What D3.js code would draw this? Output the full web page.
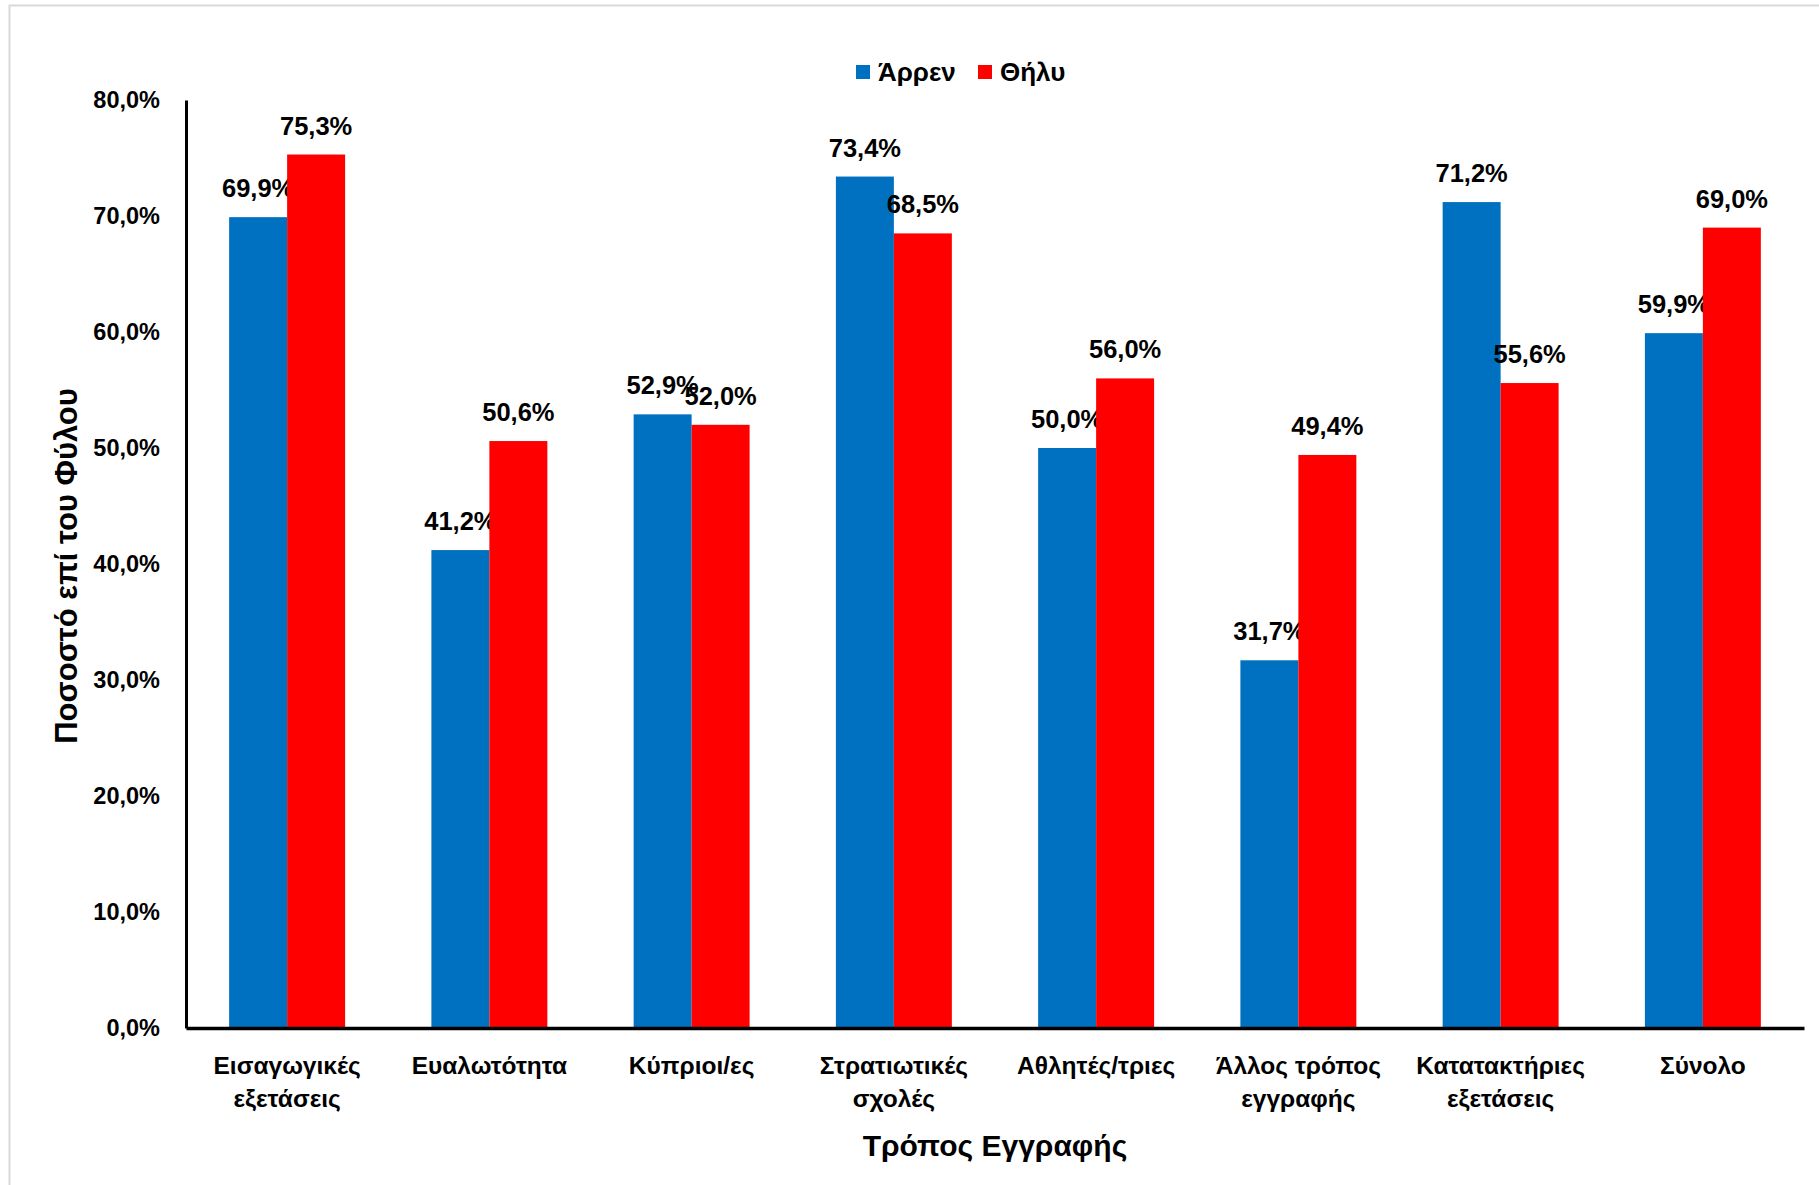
<!DOCTYPE html>
<html><head><meta charset="utf-8">
<script src="https://cdn.jsdelivr.net/npm/d3@7"></script>
<style>
html,body{margin:0;padding:0;background:#fff;}
text{font-family:"Liberation Sans",Arial,sans-serif;font-weight:bold;fill:#000;}
</style></head>
<body>
<svg id="chart" width="1819" height="1185"></svg>
<script>
const categories = [
  ["Εισαγωγικές","εξετάσεις"],
  ["Ευαλωτότητα"],
  ["Κύπριοι/ες"],
  ["Στρατιωτικές","σχολές"],
  ["Αθλητές/τριες"],
  ["Άλλος τρόπος","εγγραφής"],
  ["Κατατακτήριες","εξετάσεις"],
  ["Σύνολο"]
];
const seriesNames = ["Άρρεν","Θήλυ"];
const seriesColors = ["#0070C0","#FF0000"];
const maleValues = [69.9, 41.2, 52.9, 73.4, 50.0, 31.7, 71.2, 59.9];
const femaleValues = [75.3, 50.6, 52.0, 68.5, 56.0, 49.4, 55.6, 69.0];
const yTicks = [0,10,20,30,40,50,60,70,80];
const xTitle = "Τρόπος Εγγραφής";
const yTitle = "Ποσοστό επί του Φύλου";

const svg = d3.select("#chart");
const fmt = v => v.toFixed(1).replace(".", ",") + "%";

// frame
svg.append("rect").attr("x",9.5).attr("y",5.5).attr("width",1850).attr("height",1250)
  .attr("fill","none").attr("stroke","#d9d9d9").attr("stroke-width",2);

const pLeft = 186, pRight = 1804, pTop = 100, pBottom = 1028;
const catIdx = categories.map((d,i)=>i);
const x0 = d3.scaleBand().domain(catIdx).range([pLeft,pRight]).paddingInner(0).paddingOuter(0);
const x1 = d3.scaleBand().domain(seriesNames).range([0,x0.bandwidth()]).paddingInner(0).paddingOuter(0.744);
const y = d3.scaleLinear().domain([0,80]).range([pBottom,pTop]);

const data = [maleValues, femaleValues];

// bars
seriesNames.forEach((s,si)=>{
  const g = svg.append("g");
  g.selectAll("rect").data(data[si]).enter().append("rect")
    .attr("x",(d,i)=>x0(i)+x1(s))
    .attr("y",d=>y(d))
    .attr("width",x1.bandwidth())
    .attr("height",d=>y(0)-y(d))
    .attr("fill",seriesColors[si]);
  g.selectAll("text").data(data[si]).enter().append("text")
    .attr("x",(d,i)=>x0(i)+x1(s)+x1.bandwidth()/2)
    .attr("y",d=>y(d)-20)
    .attr("text-anchor","middle")
    .style("font-size","25.5px")
    .text(d=>fmt(d));
});

// y axis
const yAxis = d3.axisLeft(y).tickValues(yTicks).tickSize(0).tickPadding(26).tickFormat(d=>fmt(d));
const ya = svg.append("g").attr("transform",`translate(${pLeft},0)`).call(yAxis);
ya.attr("font-family",null).attr("font-size",null);
ya.select(".domain").attr("stroke","#000").attr("stroke-width",3);
ya.selectAll("text").style("font-size","23.5px");

// x axis
const xAxis = d3.axisBottom(x0).tickSize(0).tickFormat(()=> "");
const xa = svg.append("g").attr("transform",`translate(0,${pBottom})`).call(xAxis);
xa.attr("font-family",null).attr("font-size",null);
xa.select(".domain").attr("stroke","#000").attr("stroke-width",3.5);
xa.selectAll(".tick").each(function(d){
  const t = d3.select(this).select("text").attr("y",null).attr("dy",null)
    .style("font-size","24.5px");
  categories[d].forEach((line,li)=>{
    t.append("tspan").attr("x",0).attr("y",46+li*33).text(line);
  });
});

// titles
svg.append("text").attr("x",(pLeft+pRight)/2).attr("y",1156).attr("text-anchor","middle")
  .style("font-size","30px").text(xTitle);
svg.append("text").attr("transform","translate(77,566) rotate(-90)").attr("text-anchor","middle")
  .style("font-size","31px").text(yTitle);

// legend
const lg = svg.append("g").attr("transform","translate(856,65)");
const items = [{n:seriesNames[0],c:seriesColors[0],x:0},{n:seriesNames[1],c:seriesColors[1],x:122}];
items.forEach(it=>{
  lg.append("rect").attr("x",it.x).attr("y",0).attr("width",14).attr("height",14).attr("fill",it.c);
  lg.append("text").attr("x",it.x+22).attr("y",16).style("font-size","26px").text(it.n);
});
</script>
</body></html>
